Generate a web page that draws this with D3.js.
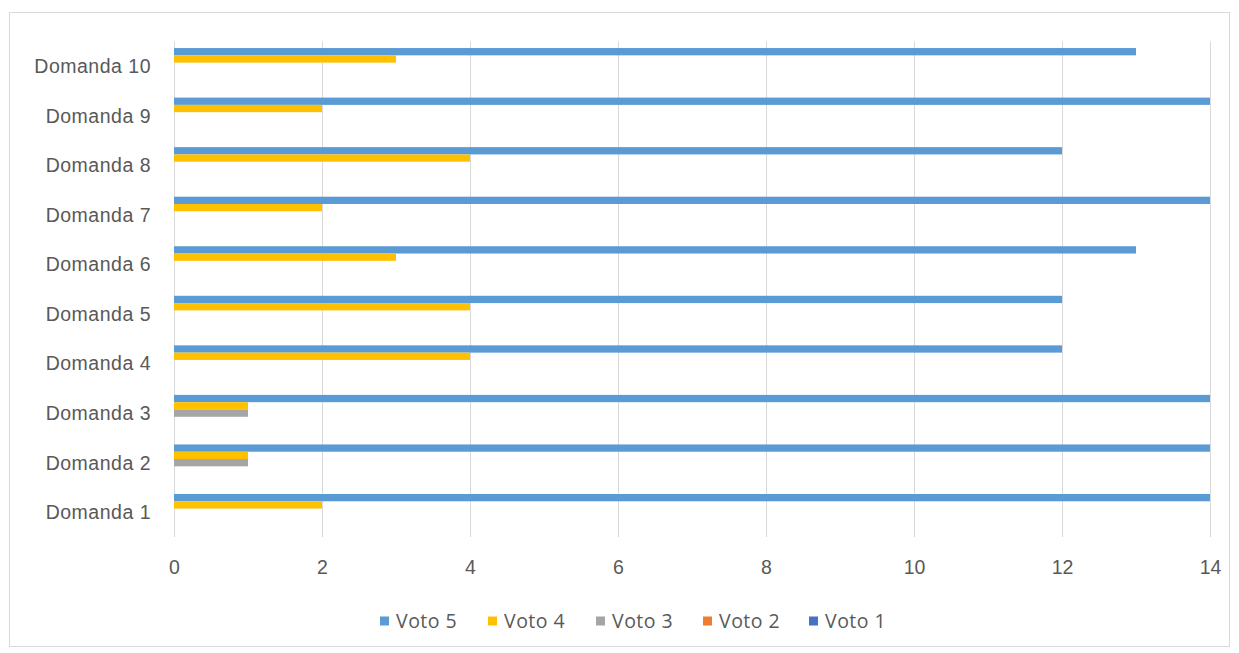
<!DOCTYPE html>
<html>
<head>
<meta charset="utf-8">
<script src="https://cdn.jsdelivr.net/npm/d3@7/dist/d3.min.js"></script>
<style>
  html, body { margin: 0; padding: 0; background: #ffffff; }
  svg { display: block; font-family: "Open Sans", "Noto Sans", sans-serif; }
</style>
</head>
<body>
<svg id="chart" width="1239" height="653"></svg>
<script>
// Questions, bottom to top
const categories = ["Domanda 1", "Domanda 2", "Domanda 3", "Domanda 4", "Domanda 5",
                    "Domanda 6", "Domanda 7", "Domanda 8", "Domanda 9", "Domanda 10"];
// Vote counts per question
const voto5 = [14, 14, 14, 12, 12, 13, 14, 12, 14, 13];
const voto4 = [2, 1, 1, 4, 4, 3, 2, 4, 2, 3];
const voto3 = [0, 1, 1, 0, 0, 0, 0, 0, 0, 0];
const voto2 = [0, 0, 0, 0, 0, 0, 0, 0, 0, 0];
const voto1 = [0, 0, 0, 0, 0, 0, 0, 0, 0, 0];
const seriesNames = ["Voto 5", "Voto 4", "Voto 3", "Voto 2", "Voto 1"];
const seriesColors = ["#5b9bd5", "#ffc000", "#a5a5a5", "#ed7d31", "#4472c4"];
const xTicks = [0, 2, 4, 6, 8, 10, 12, 14];

const seriesValues = [voto5, voto4, voto3, voto2, voto1];

const svg = d3.select("#chart");
const textColor = "#595959";
const fontSize = "19.5px";
const spacing = "0.5px";

// chart frame
svg.append("rect")
  .attr("x", 9.5).attr("y", 12.5)
  .attr("width", 1220).attr("height", 634)
  .attr("fill", "#ffffff").attr("stroke", "#d9d9d9").attr("stroke-width", 1);

const plot = { left: 174, right: 1210, top: 41.5, bottom: 537 };

const x = d3.scaleLinear().domain([0, 14]).range([plot.left, plot.right]);

const y = d3.scaleBand()
  .domain(categories.slice().reverse())
  .range([plot.top, plot.bottom])
  .paddingInner(0).paddingOuter(0);

const bw = y.bandwidth();
const clusterH = bw * 0.736;
const ySeries = d3.scaleBand()
  .domain(seriesNames)
  .range([(bw - clusterH) / 2, (bw + clusterH) / 2])
  .padding(0);

// vertical gridlines
svg.append("g")
  .selectAll("line")
  .data(xTicks.filter(t => t > 0))
  .join("line")
  .attr("x1", d => x(d) + 0.5).attr("x2", d => x(d) + 0.5)
  .attr("y1", plot.top).attr("y2", plot.bottom)
  .attr("stroke", "#d9d9d9").attr("stroke-width", 1);

// category axis line
svg.append("line")
  .attr("x1", plot.left + 0.5).attr("x2", plot.left + 0.5)
  .attr("y1", plot.top).attr("y2", plot.bottom)
  .attr("stroke", "#d9d9d9").attr("stroke-width", 1);

// bars
const rows = [];
categories.forEach((c, i) => {
  seriesNames.forEach((s, j) => {
    rows.push({ cat: c, series: s, value: seriesValues[j][i], color: seriesColors[j] });
  });
});

svg.append("g")
  .selectAll("rect")
  .data(rows.filter(d => d.value > 0))
  .join("rect")
  .attr("x", x(0))
  .attr("y", d => y(d.cat) + ySeries(d.series))
  .attr("width", d => x(d.value) - x(0))
  .attr("height", ySeries.bandwidth())
  .attr("fill", d => d.color);

// x axis labels
const xAxis = d3.axisBottom(x).tickValues(xTicks).tickSize(0).tickPadding(0).tickFormat(d3.format("d"));
const gx = svg.append("g").attr("transform", `translate(0, ${plot.bottom + 37})`).call(xAxis);
gx.select(".domain").remove();
gx.selectAll("text").attr("fill", textColor).style("font-size", fontSize)
  .attr("dy", 0).attr("y", 0);

// y axis labels
const yAxis = d3.axisLeft(y).tickSize(0).tickPadding(0);
const gy = svg.append("g").attr("transform", `translate(151, 0)`).call(yAxis);
gy.select(".domain").remove();
gy.selectAll("text").attr("fill", textColor).style("font-size", fontSize)
  .style("letter-spacing", spacing)
  .attr("dy", "0.35em").attr("x", 0);

// legend
const legend = svg.append("g").attr("transform", "translate(0, 621)");
const legendX = [380, 488, 596, 703, 809];
seriesNames.forEach((s, j) => {
  const g = legend.append("g").attr("transform", `translate(${legendX[j]}, 0)`);
  g.append("rect").attr("x", 0).attr("y", -4.5).attr("width", 9).attr("height", 9)
    .attr("fill", seriesColors[j]);
  g.append("text").attr("x", 16).attr("y", 0).attr("dy", "0.35em")
    .attr("fill", textColor).style("font-size", fontSize)
    .style("letter-spacing", spacing).text(s);
});
</script>
</body>
</html>
